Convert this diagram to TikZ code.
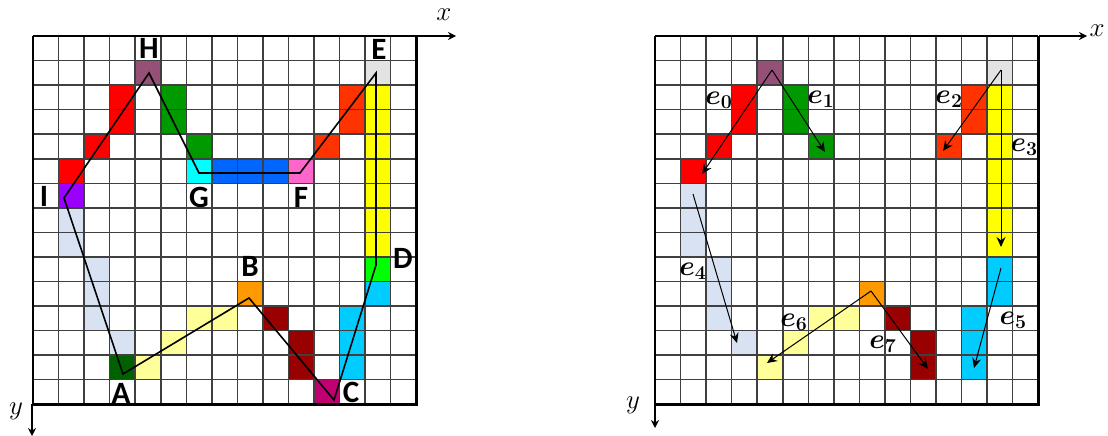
\documentclass[tikz,border=0pt]{standalone}
\usepackage{fix-cm}
\usepackage{amsmath}
\usepackage{fontspec}
\setmainfont{Carlito}
\usetikzlibrary{arrows.meta}

\definecolor{mauve}{HTML}{964F76}
\definecolor{redcell}{HTML}{FF0000}
\definecolor{violetcell}{HTML}{9900FF}
\definecolor{paleblue}{HTML}{D9E2F3}
\definecolor{darkgreen}{HTML}{006100}
\definecolor{paleyellow}{HTML}{FFFF99}
\definecolor{orangecell}{HTML}{FF9900}
\definecolor{darkred}{HTML}{990000}
\definecolor{magentacell}{HTML}{C00070}
\definecolor{skycell}{HTML}{00CCFF}
\definecolor{limecell}{HTML}{00FF00}
\definecolor{yellowcell}{HTML}{FFFF00}
\definecolor{greycell}{HTML}{E3E3E3}
\definecolor{orangered}{HTML}{FF3300}
\definecolor{pinkcell}{HTML}{FF66CC}
\definecolor{bluecell}{HTML}{0066FF}
\definecolor{cyancell}{HTML}{00FFFF}
\definecolor{greencell}{HTML}{009900}
\definecolor{gridgrey}{HTML}{404040}

\newcommand{\paintcells}[2]{\foreach \cx/\cy in {#2} {\fill[#1] (\cx,\cy) rectangle ++(1,1);}}

\begin{document}
\begin{tikzpicture}[
    x=1pt, y=-1pt,
    axis/.style={-{Stealth[length=8pt,width=8pt]}, black, line width=1.2pt},
    contour/.style={black, line width=1.6pt, line join=miter},
    edge_arrow/.style={-{Stealth[length=10pt,width=9pt]}, black, line width=1pt},
    corner_label/.style={font=\fontsize{31}{31}\selectfont\bfseries, inner sep=0pt},
    edge_label/.style={font=\fontsize{28}{28}\selectfont\boldmath, inner sep=0pt},
    axis_label/.style={font=\fontsize{27}{27}\selectfont, inner sep=0pt}
]
\useasboundingbox (0,0) rectangle (1108,436);

% Define cell size
\def\cw{25.55}
\def\ch{24.55}

% Left grid cells
\begin{scope}[shift={(33,36)}, x=\cw pt, y=-\ch pt]
    \paintcells{mauve}{4/1}
    \paintcells{redcell}{3/2, 3/3, 2/4, 1/5}
    \paintcells{violetcell}{1/6}
    \paintcells{paleblue}{1/7, 1/8, 2/9, 2/10, 2/11, 3/12}
    \paintcells{darkgreen}{3/13}
    \paintcells{paleyellow}{4/13, 5/12, 6/11, 7/11}
    \paintcells{orangecell}{8/10}
    \paintcells{darkred}{9/11, 10/12, 10/13}
    \paintcells{magentacell}{11/14}
    \paintcells{skycell}{12/11, 12/12, 12/13, 13/10}
    \paintcells{limecell}{13/9}
    \paintcells{yellowcell}{13/2, 13/3, 13/4, 13/5, 13/6, 13/7, 13/8}
    \paintcells{greycell}{13/1}
    \paintcells{orangered}{12/2, 12/3, 11/4}
    \paintcells{pinkcell}{10/5}
    \paintcells{bluecell}{7/5, 8/5, 9/5}
    \paintcells{cyancell}{6/5}
    \paintcells{greencell}{5/2, 5/3, 6/4}
\end{scope}

% Right grid cells
\begin{scope}[shift={(655,36)}, x=\cw pt, y=-\ch pt]
    \paintcells{mauve}{4/1}
    \paintcells{redcell}{3/2, 3/3, 2/4, 1/5}
    \paintcells{paleblue}{1/6, 1/7, 1/8, 2/9, 2/10, 2/11, 3/12}
    \paintcells{paleyellow}{4/13, 5/12, 6/11, 7/11}
    \paintcells{orangecell}{8/10}
    \paintcells{darkred}{9/11, 10/12, 10/13}
    \paintcells{skycell}{12/11, 12/12, 12/13, 13/9, 13/10}
    \paintcells{yellowcell}{13/2, 13/3, 13/4, 13/5, 13/6, 13/7, 13/8}
    \paintcells{greycell}{13/1}
    \paintcells{orangered}{12/2, 12/3, 11/4}
    \paintcells{greencell}{5/2, 5/3, 6/4}
\end{scope}

% Draw grids and borders
\foreach \ox in {33,655} {
    \begin{scope}[shift={(\ox,36)}, x=\cw pt, y=-\ch pt]
        \foreach \i in {1,...,14} {
            \draw[gridgrey, line width=1.5pt] (\i,0) -- (\i,15);
            \draw[gridgrey, line width=1.5pt] (0,\i) -- (15,\i);
        }
        \draw[black, line width=1.5pt] (0,0) -- (15,0);
        \draw[black, line width=2.6pt] (0,0) -- (0,15) -- (15,15) -- (15,0);
    \end{scope}
}

% Axes
\coordinate (xl0) at (416,36);
\coordinate (xl1) at (456,36);
\coordinate (yl0) at (32,404);
\coordinate (yl1) at (32,436);
\coordinate (xr0) at (1039,36);
\coordinate (xr1) at (1087,36);
\coordinate (yr0) at (655,404);
\coordinate (yr1) at (655,428);
\draw[axis] (xl0) -- (xl1);
\draw[axis] (yl0) -- (yl1);
\draw[axis] (xr0) -- (xr1);
\draw[axis] (yr0) -- (yr1);
\node[axis_label] (xlabell) at (444,15) {$x$};
\node[axis_label] (ylabell) at (16,411) {$y$};
\node[axis_label] (xlabelr) at (1097,31) {$x$};
\node[axis_label] (ylabelr) at (633,405) {$y$};

% Polygon corners
\coordinate (cA) at (123,374);
\coordinate (cB) at (249,298);
\coordinate (cC) at (334,400);
\coordinate (cD) at (376,265);
\coordinate (cE) at (376,73);
\coordinate (cF) at (300,173);
\coordinate (cG) at (199,173);
\coordinate (cH) at (149,73);
\coordinate (cI) at (64,198);
\draw[contour] (cA) -- (cB) -- (cC) -- (cD) -- (cE) -- (cF) -- (cG) -- (cH) -- (cI) -- cycle;

% Corner labels
\node[corner_label] (lA) at (121,393) {A};
\node[corner_label] (lB) at (250,266) {B};
\node[corner_label] (lC) at (351,392) {C};
\node[corner_label] (lD) at (403,258) {D};
\node[corner_label] (lE) at (379,49) {E};
\node[corner_label] (lF) at (301,197) {F};
\node[corner_label] (lG) at (199,197) {G};
\node[corner_label] (lH) at (149,48) {H};
\node[corner_label] (lI) at (44,196) {I};

% Edge arrows
\coordinate (pH) at (772,70);
\coordinate (pE) at (1001,70);
\coordinate (pB) at (871,291);
\coordinate (pI) at (693,194);
\coordinate (pD) at (1001,268);
\coordinate (q0) at (702,174);
\coordinate (q1) at (825,152);
\coordinate (q2) at (943,151);
\coordinate (q3) at (1001,247);
\coordinate (q4) at (737,343);
\coordinate (q5) at (974,368);
\coordinate (q6) at (767,363);
\coordinate (q7) at (928,369);
\draw[edge_arrow] (pH) -- (q0);
\draw[edge_arrow] (pH) -- (q1);
\draw[edge_arrow] (pE) -- (q2);
\draw[edge_arrow] (pE) -- (q3);
\draw[edge_arrow] (pI) -- (q4);
\draw[edge_arrow] (pD) -- (q5);
\draw[edge_arrow] (pB) -- (q6);
\draw[edge_arrow] (pB) -- (q7);

% Edge labels
\node[edge_label] (e0) at (719,100) {$e_0$};
\node[edge_label] (e1) at (821,99) {$e_1$};
\node[edge_label] (e2) at (949,99) {$e_2$};
\node[edge_label] (e3) at (1024,147) {$e_3$};
\node[edge_label] (e4) at (693,271) {$e_4$};
\node[edge_label] (e5) at (1013,320) {$e_5$};
\node[edge_label] (e6) at (794,322) {$e_6$};
\node[edge_label] (e7) at (883,344) {$e_7$};

\end{tikzpicture}
\end{document}
